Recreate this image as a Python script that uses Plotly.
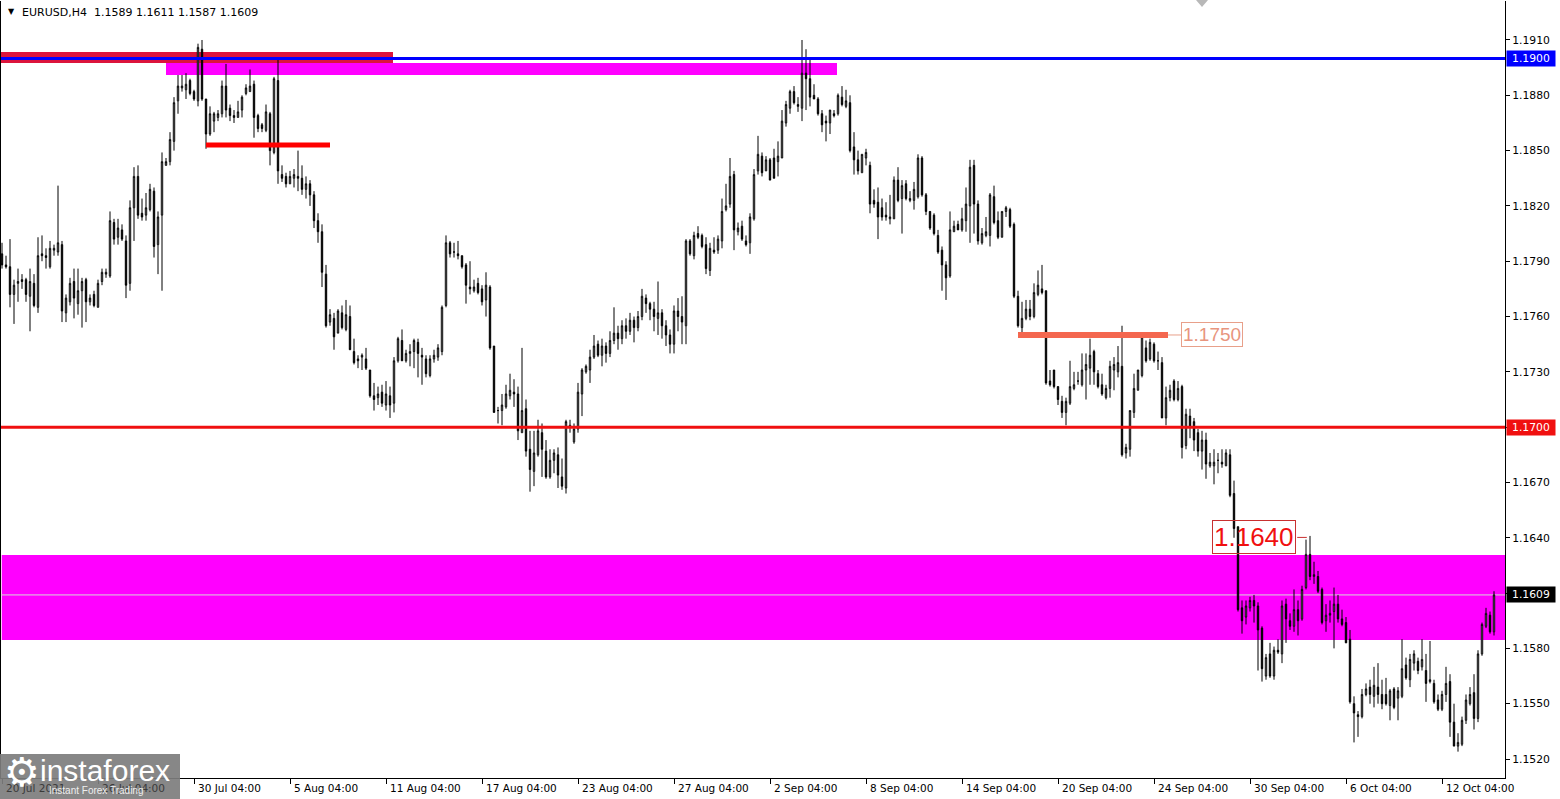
import plotly.graph_objects as go

# ---------------- data (5-digit pips, divide by 10000) ----------------
opens = [
11794,11788,11787,11772,11778,11780,11780,11771,11778,11765,
11794,11793,11787,11796,11795,11799,11762,11768,11779,11767,
11774,11780,11768,11772,11765,11779,11783,11782,11811,11803,
11807,11801,11778,11819,11836,11816,11815,11818,11828,11799,
11815,11842,11844,11855,11877,11884,11883,11888,11882,11877,
11905,11878,11859,11866,11868,11870,11885,11873,11869,11868,
11872,11881,11882,11886,11869,11864,11861,11870,11849,11888,
11837,11836,11832,11835,11836,11835,11829,11832,11826,11812,
11806,11783,11757,11759,11751,11762,11753,11760,11741,11737,
11738,11737,11731,11717,11716,11719,11712,11717,11713,11736,
11747,11736,11740,11741,11746,11739,11737,11728,11737,11738,
11741,11766,11800,11795,11794,11793,11788,11776,11774,11778,
11775,11769,11776,11744,11709,11709,11711,11717,11719,11718,
11697,11710,11688,11676,11685,11697,11687,11673,11682,11685,
11673,11667,11700,11692,11699,11718,11730,11731,11738,11745,
11739,11744,11740,11747,11751,11748,11755,11752,11758,11754,
11760,11770,11767,11764,11759,11762,11755,11750,11745,11763,
11760,11755,11801,11793,11805,11804,11799,11785,11796,11796,
11801,11818,11821,11837,11806,11809,11801,11800,11813,11839,
11847,11839,11845,11846,11844,11846,11865,11873,11882,11875,
11873,11892,11889,11880,11878,11870,11866,11865,11870,11870,
11879,11874,11876,11852,11845,11838,11846,11842,11823,11822,
11819,11815,11813,11813,11834,11824,11832,11823,11823,11825,
11846,11826,11817,11815,11804,11796,11788,11782,11806,11810,
11807,11812,11820,11842,11821,11800,11804,11804,11825,11812,
11803,11817,11818,11810,11771,11754,11759,11764,11760,11772,
11775,11774,11725,11731,11722,11714,11708,11713,11721,11725,
11723,11731,11732,11741,11729,11723,11716,11721,11731,11730,
11733,11686,11688,11708,11720,11728,11743,11737,11745,11736,
11735,11705,11716,11725,11715,11722,11690,11706,11703,11697,
11687,11693,11679,11679,11682,11681,11679,11685,11664,11646,
11602,11597,11602,11606,11603,11591,11565,11577,11565,11579,
11577,11604,11595,11592,11601,11596,11613,11631,11619,11619,
11612,11595,11598,11600,11604,11596,11594,11585,11550,11544,
11543,11555,11559,11554,11559,11555,11555,11549,11558,11553,
11554,11571,11563,11572,11573,11570,11568,11562,11561,11552,
11547,11555,11562,11540,11527,11528,11541,11550,11556,11542,
11577,11592,11598,11589]

highs = [
11800,11793,11802,11780,11786,11783,11781,11786,11783,11803,
11804,11797,11801,11799,11831,11801,11772,11781,11786,11786,
11781,11781,11772,11774,11780,11786,11786,11817,11813,11813,
11810,11804,11823,11841,11842,11824,11827,11832,11830,11817,
11849,11846,11860,11879,11891,11891,11892,11889,11883,11908,
11910,11878,11874,11871,11872,11888,11897,11875,11872,11877,
11880,11886,11894,11888,11870,11865,11875,11871,11890,11900,
11842,11838,11839,11840,11850,11842,11836,11834,11828,11816,
11810,11788,11764,11762,11764,11766,11769,11766,11748,11739,
11740,11743,11731,11724,11722,11723,11725,11722,11738,11749,
11753,11742,11745,11748,11748,11743,11739,11739,11742,11745,
11766,11804,11801,11800,11801,11793,11789,11790,11780,11781,
11777,11784,11777,11744,11711,11718,11723,11729,11726,11722,
11743,11715,11698,11698,11704,11702,11693,11688,11688,11689,
11683,11704,11704,11702,11724,11732,11734,11742,11750,11747,
11748,11746,11752,11765,11755,11758,11759,11762,11760,11763,
11775,11772,11768,11768,11779,11764,11758,11753,11766,11770,
11771,11802,11802,11806,11809,11805,11803,11800,11803,11804,
11824,11832,11846,11839,11811,11812,11804,11816,11840,11858,
11849,11847,11846,11851,11855,11872,11877,11883,11885,11879,
11910,11905,11900,11886,11879,11872,11869,11872,11872,11881,
11885,11883,11880,11860,11850,11848,11851,11844,11829,11830,
11824,11822,11826,11836,11841,11834,11834,11828,11833,11848,
11847,11827,11817,11816,11807,11798,11790,11817,11812,11812,
11819,11830,11845,11845,11823,11808,11814,11827,11831,11817,
11817,11820,11819,11811,11774,11768,11769,11769,11778,11785,
11788,11774,11731,11731,11722,11717,11716,11736,11730,11730,
11740,11740,11748,11742,11731,11729,11723,11736,11738,11744,
11755,11691,11709,11729,11731,11750,11747,11748,11746,11741,
11738,11722,11723,11726,11725,11723,11710,11710,11705,11699,
11698,11697,11686,11688,11686,11688,11688,11688,11671,11646,
11606,11606,11608,11609,11605,11592,11577,11583,11581,11585,
11606,11607,11599,11612,11606,11614,11639,11641,11627,11622,
11613,11604,11606,11613,11609,11601,11597,11590,11554,11546,
11558,11561,11563,11570,11572,11563,11564,11558,11559,11559,
11585,11575,11577,11579,11575,11585,11577,11584,11563,11555,
11557,11570,11566,11550,11534,11543,11555,11559,11566,11579,
11594,11602,11600,11611]

lows = [
11786,11786,11765,11756,11768,11775,11768,11752,11765,11762,
11790,11786,11786,11793,11793,11757,11757,11766,11759,11761,
11754,11757,11766,11765,11765,11777,11781,11781,11799,11799,
11801,11770,11774,11801,11813,11812,11812,11817,11792,11783,
11774,11842,11842,11850,11870,11882,11878,11880,11877,11874,
11877,11851,11858,11860,11866,11868,11868,11866,11865,11868,
11868,11880,11882,11857,11860,11860,11860,11842,11848,11832,
11833,11830,11832,11830,11828,11826,11824,11820,11808,11800,
11776,11754,11755,11742,11751,11753,11752,11742,11734,11732,
11731,11731,11716,11709,11712,11711,11709,11705,11708,11735,
11736,11735,11733,11732,11727,11723,11727,11727,11735,11736,
11739,11765,11792,11792,11791,11786,11767,11772,11773,11772,
11766,11760,11742,11708,11702,11701,11710,11715,11711,11693,
11697,11684,11665,11668,11684,11673,11672,11672,11675,11667,
11666,11664,11697,11691,11697,11706,11729,11724,11737,11738,
11733,11735,11738,11745,11742,11745,11748,11750,11746,11752,
11758,11762,11758,11752,11750,11748,11744,11740,11740,11752,
11745,11745,11793,11791,11802,11797,11783,11782,11794,11794,
11797,11817,11819,11796,11804,11801,11798,11794,11812,11837,
11836,11839,11834,11835,11836,11846,11863,11870,11875,11871,
11866,11872,11874,11878,11869,11860,11855,11859,11868,11869,
11874,11873,11849,11837,11837,11838,11842,11816,11819,11802,
11812,11812,11810,11813,11822,11805,11823,11822,11818,11824,
11825,11815,11807,11804,11794,11774,11769,11781,11806,11807,
11806,11806,11800,11805,11799,11799,11803,11798,11810,11802,
11803,11814,11808,11770,11754,11750,11758,11758,11759,11771,
11772,11723,11722,11721,11712,11705,11701,11712,11720,11723,
11722,11715,11723,11723,11721,11717,11715,11716,11720,11727,
11684,11683,11684,11705,11720,11727,11735,11736,11735,11731,
11705,11701,11714,11714,11714,11683,11688,11694,11687,11684,
11677,11672,11678,11669,11675,11678,11679,11662,11640,11600,
11588,11593,11600,11594,11568,11562,11563,11564,11563,11577,
11572,11583,11590,11589,11587,11595,11612,11617,11615,11610,
11593,11589,11594,11580,11594,11592,11583,11550,11529,11532,
11542,11554,11550,11548,11550,11547,11549,11541,11547,11541,
11553,11563,11559,11568,11566,11568,11551,11561,11550,11546,
11546,11551,11532,11527,11524,11527,11539,11549,11536,11540,
11576,11591,11588,11587]

closes = [
11788,11787,11772,11777,11779,11779,11772,11779,11766,11793,
11793,11792,11797,11797,11800,11763,11770,11778,11770,11774,
11779,11768,11770,11766,11778,11784,11784,11812,11802,11808,
11802,11777,11819,11836,11815,11814,11819,11829,11798,11814,
11844,11844,11856,11876,11885,11885,11886,11881,11878,11906,
11878,11859,11870,11870,11870,11885,11872,11869,11868,11871,
11879,11884,11885,11868,11862,11862,11871,11850,11889,11839,
11835,11832,11836,11837,11835,11829,11832,11826,11812,11806,
11784,11755,11761,11749,11763,11754,11761,11742,11735,11736,
11739,11732,11717,11715,11718,11713,11718,11712,11736,11748,
11736,11740,11741,11747,11740,11738,11729,11737,11739,11743,
11765,11800,11794,11795,11793,11787,11777,11775,11776,11773,
11768,11777,11743,11708,11709,11712,11718,11720,11718,11698,
11709,11687,11677,11686,11698,11688,11673,11682,11686,11674,
11668,11703,11701,11699,11719,11731,11733,11738,11744,11739,
11744,11740,11747,11751,11748,11755,11752,11758,11754,11760,
11771,11767,11764,11760,11762,11755,11750,11745,11763,11760,
11757,11801,11794,11804,11803,11798,11786,11797,11795,11802,
11817,11820,11836,11807,11808,11802,11799,11814,11837,11848,
11838,11845,11834,11835,11847,11866,11875,11882,11876,11874,
11892,11889,11879,11878,11870,11864,11865,11872,11869,11880,
11875,11877,11850,11845,11839,11848,11849,11821,11821,11814,
11814,11814,11814,11834,11823,11831,11824,11824,11829,11846,
11826,11817,11808,11805,11795,11788,11781,11807,11809,11807,
11813,11821,11841,11821,11801,11805,11806,11826,11811,11803,
11817,11819,11809,11771,11755,11759,11764,11760,11773,11777,
11773,11724,11723,11722,11715,11708,11714,11722,11723,11725,
11731,11734,11739,11730,11722,11718,11721,11733,11734,11735,
11685,11689,11709,11721,11731,11749,11736,11746,11736,11736,
11705,11716,11720,11715,11721,11689,11707,11700,11693,11687,
11693,11680,11681,11681,11682,11680,11686,11663,11645,11601,
11595,11603,11606,11603,11590,11569,11575,11565,11579,11578,
11603,11596,11592,11601,11595,11612,11631,11619,11620,11611,
11594,11598,11599,11604,11596,11593,11583,11551,11545,11543,
11555,11558,11555,11560,11555,11550,11550,11557,11548,11557,
11569,11564,11574,11577,11568,11574,11561,11563,11551,11547,
11555,11561,11540,11527,11529,11541,11552,11555,11542,11577,
11593,11599,11589,11609]

symbol_title = "EURUSD,H4\u00a0\u00a01.1589 1.1611 1.1587 1.1609"
date_tick_idx = [0, 24, 48, 72, 96, 120, 144, 168, 192, 216, 240, 264, 288, 312, 336, 360]
date_tick_text = ["20 Jul 2021", "26 Jul 04:00", "30 Jul 04:00", "5 Aug 04:00", "11 Aug 04:00",
                  "17 Aug 04:00", "23 Aug 04:00", "27 Aug 04:00", "2 Sep 04:00", "8 Sep 04:00",
                  "14 Sep 04:00", "20 Sep 04:00", "24 Sep 04:00", "30 Sep 04:00", "6 Oct 04:00",
                  "12 Oct 04:00"]
price_ticks = [1.1520, 1.1550, 1.1580, 1.1610, 1.1640, 1.1670, 1.1700, 1.1730, 1.1760,
               1.1790, 1.1820, 1.1850, 1.1880, 1.1910]
level_blue = 1.1900
level_red = 1.1700
level_bid = 1.1609
level_salmon = 1.1750
level_short_red = 1.1853
zone_top = (1.18975, 1.19035)       # crimson band
zone_top2 = (1.18910, 1.18975)      # magenta band
zone_main = (1.15846, 1.16307)      # big magenta zone
label_1750 = "1.1750"
label_1640 = "1.1640"
label_1640_price = 1.16402

# ---------------- build ----------------
P = lambda v: [x / 10000 for x in v]
idx = list(range(len(closes)))
FONT = "DejaVu Sans"

fig = go.Figure(go.Candlestick(
    x=idx, open=P(opens), high=P(highs), low=P(lows), close=P(closes),
    increasing=dict(line=dict(color="black", width=1), fillcolor="white"),
    decreasing=dict(line=dict(color="black", width=1), fillcolor="black"),
    whiskerwidth=0, hoverinfo="skip", showlegend=False))

X0, X1 = -0.25, 375.75
Y0, Y1 = 1.15097, 1.193115

def px_x(p):   # pixel -> paper x
    return (p - 1) / 1504
def px_y(p):   # pixel -> paper y
    return (778 - p) / 777

shapes = [
    # zones (below candles)
    dict(type="rect", xref="x", yref="y", x0=-0.5, x1=97.75, y0=zone_top[0], y1=zone_top[1],
         fillcolor="#DC143C", line_width=0, layer="below"),
    dict(type="rect", xref="x", yref="y", x0=41, x1=208.75, y0=zone_top2[0], y1=zone_top2[1],
         fillcolor="#FF00FF", line_width=0, layer="below"),
    dict(type="rect", xref="paper", yref="y", x0=0.0005, x1=1, y0=zone_main[0], y1=zone_main[1],
         fillcolor="#FF00FF", line_width=0, layer="below"),
    dict(type="line", xref="paper", yref="y", x0=0, x1=1, y0=level_bid, y1=level_bid,
         line=dict(color="#D8D8D8", width=1), layer="below"),
    # lines (above candles)
    dict(type="line", xref="paper", yref="y", x0=0, x1=1, y0=level_blue, y1=level_blue,
         line=dict(color="#0000FF", width=3)),
    dict(type="line", xref="paper", yref="y", x0=0, x1=1, y0=level_red, y1=level_red,
         line=dict(color="#F01010", width=3)),
    dict(type="line", xref="x", yref="y", x0=51, x1=82, y0=level_short_red, y1=level_short_red,
         line=dict(color="#FF0000", width=5)),
    dict(type="line", xref="x", yref="y", x0=254, x1=291.5, y0=level_salmon, y1=level_salmon,
         line=dict(color="#F4674F", width=6)),
    dict(type="line", xref="x", yref="y", x0=291.5, x1=294.8, y0=level_salmon, y1=level_salmon,
         line=dict(color="#E8A08A", width=1)),
    dict(type="line", xref="x", yref="y", x0=323.8, x1=326.2, y0=label_1640_price, y1=label_1640_price,
         line=dict(color="#C83030", width=1)),
    # chart-shift marker (small gray triangle at the top edge)
    dict(type="path", xref="paper", yref="paper",
         path=f"M {px_x(1196)} {px_y(0)} L {px_x(1208)} {px_y(0)} L {px_x(1202)} {px_y(7)} Z",
         fillcolor="#B8B8B8", line_width=0),
    # logo background
    dict(type="rect", xref="paper", yref="paper", x0=-0.001, x1=px_x(180), y0=px_y(800), y1=px_y(754),
         fillcolor="rgba(125,125,125,0.92)", line_width=0, layer="above"),
]

annotations = []
# date labels (those under the logo are dimmed)
for i, t in zip(date_tick_idx, date_tick_text):
    col = "#3a3a3a" if i < 40 else "black"
    annotations.append(dict(x=i, xref="x", y=0, yref="paper", text=t, showarrow=False,
                            xanchor="left", yanchor="top", xshift=2, yshift=-2,
                            font=dict(family=FONT, size=10.5, color=col)))
# title
annotations.append(dict(x=0.0035, xref="paper", y=1, yref="paper", text="\u25bc", showarrow=False,
                        xanchor="left", yanchor="top", yshift=-4, font=dict(family=FONT, size=8, color="black")))
annotations.append(dict(x=0.0125, xref="paper", y=1, yref="paper", text=symbol_title, showarrow=False,
                        xanchor="left", yanchor="top", yshift=-3, font=dict(family=FONT, size=11, color="black")))
# price boxes on axis
for lvl, bg in [(level_blue, "#0000FF"), (level_red, "#F01010"), (level_bid, "#000000")]:
    annotations.append(dict(x=1, xref="paper", y=lvl, yref="y", text=f"{lvl:.4f}", showarrow=False,
                            xanchor="left", yanchor="middle", xshift=1, bgcolor=bg, width=46, height=13,
                            borderpad=1, font=dict(family=FONT, size=10.8, color="white")))
# level labels in chart
annotations.append(dict(x=302.6, xref="x", y=level_salmon, yref="y", text=label_1750, showarrow=False,
                        xanchor="center", yanchor="middle", bordercolor="#E8A08A", borderwidth=1, borderpad=1,
                        font=dict(family="Liberation Sans", size=19, color="#E8957E")))
annotations.append(dict(x=313.0, xref="x", y=label_1640_price, yref="y", text=label_1640, showarrow=False,
                        xanchor="center", yanchor="middle", bordercolor="#C83030", borderwidth=1, borderpad=1,
                        font=dict(family="Liberation Sans", size=26, color="#F01010")))
# logo texts
annotations.append(dict(x=px_x(2), xref="paper", y=px_y(797), yref="paper", text="\u2699", showarrow=False,
                        xanchor="left", yanchor="bottom", font=dict(family=FONT, size=40, color="white")))
annotations.append(dict(x=px_x(38), xref="paper", y=px_y(789), yref="paper", text="instaforex", showarrow=False,
                        xanchor="left", yanchor="bottom", font=dict(family="Liberation Sans", size=30, color="white")))
annotations.append(dict(x=px_x(47), xref="paper", y=px_y(798), yref="paper", text="Instant Forex Trading", showarrow=False,
                        xanchor="left", yanchor="bottom", font=dict(family="Liberation Sans", size=10, color="#EEEEEE")))

fig.update_layout(
    width=1560, height=799,
    margin=dict(l=1, r=55, t=1, b=21),
    paper_bgcolor="white", plot_bgcolor="white",
    boxgap=0.5,
    shapes=shapes, annotations=annotations,
    hovermode=False, dragmode=False,
    xaxis=dict(range=[X0, X1], rangeslider=dict(visible=False), showgrid=False, zeroline=False,
               tickvals=date_tick_idx, ticks="outside", ticklen=5, tickcolor="black",
               showticklabels=False, showline=True, linecolor="black", linewidth=1, fixedrange=True),
    yaxis=dict(range=[Y0, Y1], side="right", showgrid=False, zeroline=False,
               tickvals=price_ticks, ticktext=[f"{v:.4f}" for v in price_ticks],
               ticks="outside", ticklen=4, tickcolor="black",
               tickfont=dict(family=FONT, size=10.8, color="black"),
               showline=True, linecolor="black", linewidth=1, mirror=True, fixedrange=True),
)

fig.write_html("out.html", config={"displayModeBar": False, "staticPlot": True},
               post_script="document.body.style.margin='0';document.body.style.overflow='hidden';")
